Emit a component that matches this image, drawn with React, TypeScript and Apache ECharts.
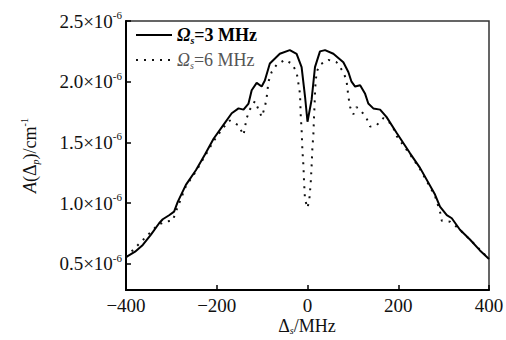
import React, { useEffect, useRef } from "react";
import * as echarts from "echarts";

// detuning (MHz), absorption (×1e-6 cm^-1)
const solid3: [number, number][] = [
  [-400, 0.555], [-380, 0.6], [-363, 0.655], [-345, 0.74], [-327, 0.834], [-319, 0.867],
  [-305, 0.9], [-294, 0.93], [-286, 1.01], [-268, 1.15], [-246, 1.27], [-226, 1.4],
  [-207, 1.53], [-186, 1.64], [-167, 1.74], [-152, 1.78], [-141, 1.77], [-130, 1.82],
  [-123, 1.93], [-112, 1.99], [-101, 1.96], [-94, 2.01], [-83, 2.15], [-61, 2.23],
  [-39, 2.26], [-24, 2.23], [-13, 2.12], [-5.5, 1.88], [0, 1.67], [9, 1.85],
  [16.5, 2.12], [27.5, 2.25], [38.6, 2.26], [57, 2.23], [79, 2.16], [90, 2.08],
  [97, 2.0], [105, 1.96], [116, 1.97], [127, 1.9], [134, 1.82], [145, 1.78],
  [160, 1.77], [174, 1.71], [197, 1.575], [226, 1.41], [248, 1.29], [281, 1.07],
  [292, 0.97], [307, 0.9], [318, 0.875], [336, 0.78], [358, 0.7], [380, 0.61], [400, 0.54],
];

const dotted6: [number, number][] = [
  [-400, 0.555], [-330, 0.82], [-313, 0.847], [-297, 0.855], [-290, 0.93], [-268, 1.14],
  [-246, 1.26], [-207, 1.51], [-186, 1.62], [-171, 1.68], [-152, 1.64], [-141, 1.56],
  [-134, 1.7], [-127, 1.77], [-116, 1.84], [-109, 1.78], [-101, 1.71], [-94, 1.79],
  [-90, 1.87], [-86, 2.0], [-79, 2.08], [-68, 2.14], [-50, 2.18], [-35, 2.15],
  [-24, 2.08], [-16.5, 1.9], [-15, 1.73], [-12.8, 1.59], [-11.3, 1.44], [-9, 1.31],
  [-7.5, 1.17], [-5.5, 1.03], [0, 0.96], [4, 1.03], [7, 1.16], [9, 1.3], [10.6, 1.44],
  [13, 1.57], [14.5, 1.72], [15.5, 1.8], [17, 1.95], [20, 2.08], [27.5, 2.14], [46, 2.18],
  [64, 2.16], [79, 2.08], [86, 2.01], [90, 1.88], [94, 1.79], [101, 1.73], [108, 1.79],
  [116, 1.77], [130, 1.7], [138, 1.63], [152, 1.64], [167, 1.7], [182, 1.66], [189, 1.62],
  [197, 1.55], [226, 1.4], [248, 1.28], [281, 1.06], [292, 0.93], [296, 0.855],
  [314, 0.847], [330, 0.8], [358, 0.7], [400, 0.54],
];

const yTicks = [0.5, 1.0, 1.5, 2.0, 2.5];
const xTicks = [-400, -200, 0, 200, 400];
const seriesNames = ["Ωs=3 MHz", "Ωs=6 MHz"];

const FONT = "'Liberation Serif', 'Times New Roman', serif";

export default function App() {
  const ref = useRef<HTMLDivElement>(null);
  useEffect(() => {
    if (!ref.current) return;
    const chart = echarts.init(ref.current, undefined, { renderer: "svg" });
    chart.setOption({
      animation: false,
      backgroundColor: "#fff",
      color: ["#000", "#000"],
      textStyle: { fontFamily: FONT },
      grid: {
        left: 126, right: 17, top: 21, bottom: 50,
        outerBoundsMode: "none",
        containLabel: false,
        show: true, borderColor: "#333", borderWidth: 1.5, backgroundColor: "transparent",
      },
      graphic: [
        {
          type: "text",
          x: 307,
          y: 316,
          style: {
            text: "{d|Δ}{s|s}{t|/MHz}",
            align: "center",
            verticalAlign: "top",
            fill: "#111",
            font: `18px ${FONT}`,
            rich: {
              d: { fontFamily: FONT, fontSize: 18, lineHeight: 20, fill: "#111" },
              s: { fontFamily: FONT, fontSize: 10, lineHeight: 12, fontStyle: "italic", fill: "#111", padding: [8, 0, 0, 0] },
              t: { fontFamily: FONT, fontSize: 18, lineHeight: 20, fill: "#111" },
            },
          },
        },
      ],
      legend: {
        orient: "vertical",
        left: 135,
        top: 26,
        padding: 0,
        itemWidth: 36,
        itemHeight: 10,
        itemGap: 6,
        itemStyle: { opacity: 0 },
        data: [
          { name: seriesNames[0], textStyle: { color: "#000", fontWeight: "bold" } },
          { name: seriesNames[1], textStyle: { color: "#555" } },
        ],
        formatter: (name: string) => {
          const v = name === seriesNames[0] ? "3 MHz" : "6 MHz";
          return `{o|Ω}{s|s}{t|=${v}}`;
        },
        textStyle: {
          fontFamily: FONT,
          fontSize: 18,
          rich: {
            o: { fontFamily: FONT, fontSize: 18, fontStyle: "italic" },
            s: { fontFamily: FONT, fontSize: 10, fontStyle: "italic", padding: [10, 0, 0, 0] },
            t: { fontFamily: FONT, fontSize: 18 },
          },
        },
      },
      xAxis: {
        type: "value",
        min: -400,
        max: 400,
        interval: 200,
        axisLine: { show: true, onZero: false, lineStyle: { color: "#000", width: 2 } },
        axisTick: { show: true, inside: true, length: 5, lineStyle: { color: "#000", width: 1.5 } },
        splitLine: { show: false },
        axisLabel: {
          fontFamily: FONT,
          fontSize: 19,
          color: "#111",
          margin: 6,
          customValues: xTicks,
          formatter: (v: number) => (v < 0 ? "\u2212" + Math.abs(v) : String(v)),
        },
      },
      yAxis: {
        type: "value",
        min: 0.284,
        max: 2.5,
        name: "{a|A}{p|(Δ}{s|p}{p|)/cm}{e|-1}",
        nameLocation: "middle",
        nameRotate: 90,
        nameGap: 85,
        nameMoveOverlap: false,
        nameTextStyle: {
          fontFamily: FONT,
          fontSize: 18,
          color: "#111",
          rich: {
            a: { fontFamily: FONT, fontSize: 18, fontStyle: "italic", color: "#111" },
            p: { fontFamily: FONT, fontSize: 18, color: "#111" },
            s: { fontFamily: FONT, fontSize: 10, fontStyle: "italic", color: "#111", padding: [10, 0, 0, 0] },
            e: { fontFamily: FONT, fontSize: 10, color: "#111", padding: [0, 0, 12, 0] },
          },
        },
        axisLine: { show: true, onZero: false, lineStyle: { color: "#000", width: 2 } },
        axisTick: { show: true, inside: true, length: 5, customValues: yTicks, lineStyle: { color: "#000", width: 1.5 } },
        splitLine: { show: false },
        axisLabel: {
          fontFamily: FONT,
          fontSize: 19,
          color: "#111",
          margin: 4,
          customValues: yTicks,
          formatter: (v: number) => `{a|${v.toFixed(1)}×10}{b|-6}`,
          rich: {
            a: { fontFamily: FONT, fontSize: 19, color: "#111" },
            b: { fontFamily: FONT, fontSize: 11, color: "#111", padding: [0, 0, 12, 0] },
          },
        },
      },
      series: [
        {
          name: seriesNames[1],
          type: "line",
          data: dotted6,
          symbol: "none",
          smooth: false,
          itemStyle: { color: "#000" },
          lineStyle: { color: "#111", width: 2, type: [2, 6] },
          z: 2,
        },
        {
          name: seriesNames[0],
          type: "line",
          data: solid3,
          symbol: "none",
          smooth: false,
          itemStyle: { color: "#000" },
          lineStyle: { color: "#000", width: 2 },
          z: 3,
        },
      ],
    });
    return () => chart.dispose();
  }, []);
  return <div ref={ref} style={{ position: "fixed", left: 0, top: 0, width: 506, height: 340 }} />;
}
